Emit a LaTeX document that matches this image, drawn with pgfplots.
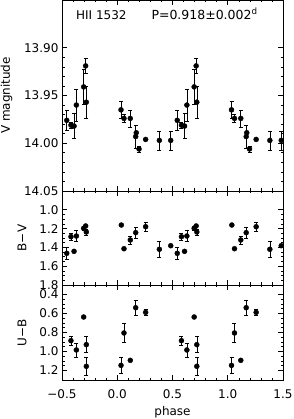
\documentclass[border=0pt]{standalone}
\usepackage{fontspec}
\setmainfont{DejaVu Sans}
\usepackage{pgfplots}
\pgfplotsset{compat=1.18}
\usepackage{pgfplotstable}

\pgfplotstableread{
x y e
-0.457 13.976 0.010
-0.419 13.981 0.003
-0.391 13.982 0.013
-0.370 13.960 0.017
-0.304 13.941 0.018
-0.286 13.919 0.008
-0.280 13.957 0.017
0.034 13.965 0.009
0.061 13.974 0.004
0.118 13.974 0.009
0.167 13.993 0.012
0.172 13.989 0.000
0.197 14.006 0.003
0.257 13.996 0.000
0.381 13.997 0.010
0.484 13.997 0.010
0.543 13.976 0.010
0.581 13.981 0.003
0.609 13.982 0.013
0.630 13.960 0.017
0.696 13.941 0.018
0.714 13.919 0.008
0.720 13.957 0.017
1.034 13.965 0.009
1.061 13.974 0.004
1.118 13.974 0.009
1.167 13.993 0.012
1.172 13.989 0.000
1.197 14.006 0.003
1.257 13.996 0.000
1.381 13.997 0.010
1.484 13.997 0.010
}\Vdata

\pgfplotstableread{
x y e
-0.457 1.463 0.067
-0.419 1.286 0.040
-0.391 1.442 0.000
-0.370 1.279 0.058
-0.304 1.197 0.020
-0.286 1.172 0.000
-0.280 1.236 0.030
0.037 1.162 0.000
0.061 1.414 0.000
0.118 1.321 0.043
0.167 1.243 0.056
0.257 1.180 0.050
0.381 1.420 0.082
0.484 1.382 0.000
0.543 1.463 0.067
0.581 1.286 0.040
0.609 1.442 0.000
0.630 1.279 0.058
0.696 1.197 0.020
0.714 1.172 0.000
0.720 1.236 0.030
1.037 1.162 0.000
1.061 1.414 0.000
1.118 1.321 0.043
1.167 1.243 0.056
1.257 1.180 0.050
1.381 1.420 0.082
1.484 1.382 0.000
}\BVdata

\pgfplotstableread{
x y e
-0.419 0.886 0.049
-0.370 0.984 0.074
-0.304 0.637 0.000
-0.280 0.928 0.084
-0.280 1.156 0.091
0.034 1.146 0.084
0.061 0.805 0.100
0.118 1.093 0.000
0.167 0.539 0.077
0.257 0.588 0.034
0.581 0.886 0.049
0.630 0.984 0.074
0.696 0.637 0.000
0.720 0.928 0.084
0.720 1.156 0.091
1.034 1.146 0.084
1.061 0.805 0.100
1.118 1.093 0.000
1.167 0.539 0.077
1.257 0.588 0.034
}\UBdata

\begin{document}
\begin{tikzpicture}
\useasboundingbox (0pt,0pt) rectangle (293pt,419pt);
\pgfplotsset{
  panel/.style={
    scale only axis, width=221pt, anchor=south west,
    xmin=-0.5, xmax=1.5, y dir=reverse,
    xtick={-0.5,0,0.5,1,1.5}, minor x tick num=4,
    tick align=inside, major tick length=5pt, minor tick length=2.5pt,
    axis line style={line width=0.7pt},
    every tick/.style={line width=0.6pt, black},
    ticklabel style={font=\fontsize{12}{14}\selectfont},
    label style={font=\fontsize{12}{14}\selectfont},
    xticklabel style={yshift=-6pt},
  },
  pts/.style={only marks, mark=*, mark size=2.5pt, black,
    error bars/.cd, y dir=both, y explicit,
    error bar style={line width=0.6pt, black},
    error mark options={rotate=90, mark size=2pt, line width=0.6pt, black}},
}

% top panel: V
\begin{axis}[panel, at={(62pt,228pt)}, height=191pt,
  ymin=13.85, ymax=14.05,
  ytick={13.90,13.95,14.00,14.05}, yticklabels={13.90,13.95,14.00,14.05},
  minor y tick num=4,
  xticklabels={},
  ylabel={V magnitude},
  ylabel style={at={(axis description cs:-0.251,0.5)}, anchor=center},
]
\addplot[pts] table[x=x, y=y, y error=e] {\Vdata};
\node[anchor=base west, font=\fontsize{12}{14}\selectfont] at (axis description cs:0.048,0.9005) {HII 1532};
\node[anchor=base west, font=\fontsize{12.5}{14}\selectfont] at (axis description cs:0.389,0.9005) {P=0.918±0.002\textsuperscript{d}};
\end{axis}

% middle panel: B-V
\begin{axis}[panel, at={(62pt,134pt)}, height=94pt,
  ymin=0.8, ymax=1.8,
  ytick={1.0,1.2,1.4,1.6,1.8}, yticklabels={1.0,1.2,1.4,1.6,1.8},
  minor y tick num=3,
  xticklabels={},
  ylabel={B−V},
  ylabel style={at={(axis description cs:-0.181,0.5)}, anchor=center},
]
\addplot[pts] table[x=x, y=y, y error=e] {\BVdata};
\end{axis}

% bottom panel: U-B
\begin{axis}[panel, at={(62pt,39pt)}, height=95pt,
  ymin=0.3, ymax=1.3,
  ytick={0.4,0.6,0.8,1.0,1.2}, yticklabels={0.4,0.6,0.8,1.0,1.2},
  minor y tick num=3,
  xticklabels={−0.5,0.0,0.5,1.0,1.5},
  ylabel={U−B},
  ylabel style={at={(axis description cs:-0.181,0.5)}, anchor=center},
  xlabel={phase},
  xlabel style={at={(axis description cs:0.5,-0.337)}, anchor=center},
]
\addplot[pts] table[x=x, y=y, y error=e] {\UBdata};
\end{axis}
\end{tikzpicture}
\end{document}
